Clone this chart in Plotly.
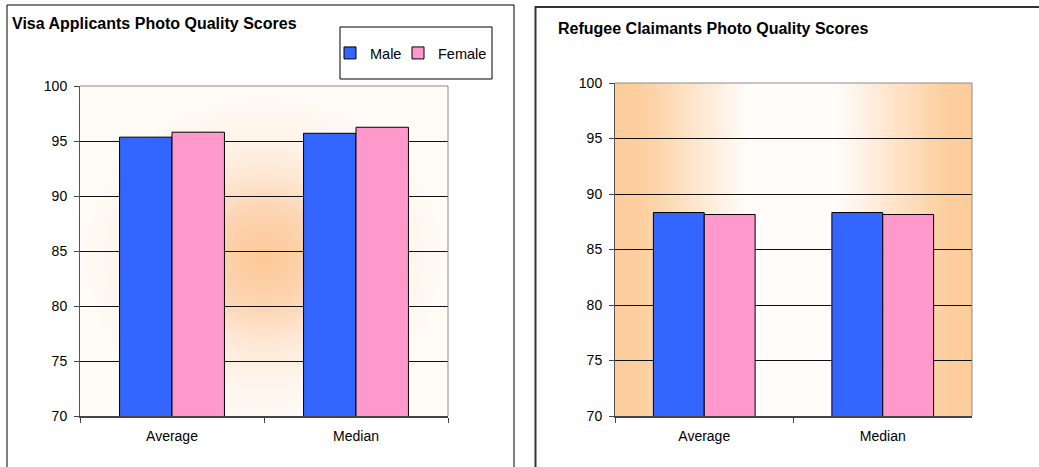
import base64
import struct
import zlib

import plotly.graph_objects as go

W, H = 1039, 467

categories = ["Average", "Median"]
visa_male = [95.35, 95.7]
visa_female = [95.8, 96.25]
refugee_male = [88.33, 88.33]
refugee_female = [88.15, 88.15]
y_ticks = [70, 75, 80, 85, 90, 95, 100]

MALE = "#3366FF"
FEMALE = "#FF99CC"
FONT = "Liberation Sans, Arial, sans-serif"


def px(x):
    return x / W


def py(y):
    return 1 - y / H


def ramp(stops, t):
    # piecewise linear colour ramp, stops = [(t, (r, g, b)), ...]
    for (t0, c0), (t1, c1) in zip(stops, stops[1:]):
        if t <= t1:
            f = max(0.0, (t - t0) / (t1 - t0))
            return tuple(round(a + (b - a) * f) for a, b in zip(c0, c1))
    return stops[-1][1]


def png_uri(w, h, colour_at):
    raw = b""
    for j in range(h):
        row = bytearray([0])
        for i in range(w):
            row.extend(colour_at((i + 0.5) / w, (j + 0.5) / h))
        raw += bytes(row)

    def chunk(tag, data):
        return (struct.pack(">I", len(data)) + tag + data
                + struct.pack(">I", zlib.crc32(tag + data) & 0xFFFFFFFF))

    png = (b"\x89PNG\r\n\x1a\n"
           + chunk(b"IHDR", struct.pack(">IIBBBBB", w, h, 8, 2, 0, 0, 0))
           + chunk(b"IDAT", zlib.compress(raw, 9))
           + chunk(b"IEND", b""))
    return "data:image/png;base64," + base64.b64encode(png).decode()


# background fills of the two plot areas (Excel style gradients)
radial_stops = [(0.0, (253, 200, 150)), (0.3, (253, 214, 180)), (0.5, (254, 231, 211)),
                (0.7, (255, 243, 233)), (1.0, (255, 251, 247))]
band_stops = [(0.0, (253, 204, 154)), (0.07, (253, 206, 158)), (0.37, (255, 252, 250)),
              (0.62, (255, 252, 250)), (0.93, (253, 206, 158)), (1.0, (253, 204, 154))]


def radial(u, v):
    t = (((u - 0.5) / 0.5) ** 2 + ((v - 0.52) / 0.5) ** 2) ** 0.5
    return ramp(radial_stops, t)


def band(u, v):
    return ramp(band_stops, u)


# plot areas in screen pixels: left, top, right, bottom
LEFT_BOX = (80, 86, 448, 416)
RIGHT_BOX = (615, 83, 972, 416)

fig = go.Figure()

fig.add_trace(go.Bar(x=categories, y=visa_male, name="Male", legend="legend",
                     marker=dict(color=MALE, line=dict(color="black", width=1)), xaxis="x", yaxis="y"))
fig.add_trace(go.Bar(x=categories, y=visa_female, name="Female", legend="legend2",
                     marker=dict(color=FEMALE, line=dict(color="black", width=1)), xaxis="x", yaxis="y"))
fig.add_trace(go.Bar(x=categories, y=refugee_male, name="Male", showlegend=False,
                     marker=dict(color=MALE, line=dict(color="black", width=1)), xaxis="x2", yaxis="y2"))
fig.add_trace(go.Bar(x=categories, y=refugee_female, name="Female", showlegend=False,
                     marker=dict(color=FEMALE, line=dict(color="black", width=1)), xaxis="x2", yaxis="y2"))


def x_axis(box):
    return dict(domain=[px(box[0]), px(box[2])], type="category", tickson="boundaries",
                ticks="outside", ticklen=5, tickcolor="#444", showline=True, linecolor="#444",
                linewidth=2, showgrid=False, tickfont=dict(size=14, color="black"),
                ticklabelstandoff=6, automargin=False)


def y_axis(box, anchor):
    return dict(domain=[py(box[3]), py(box[1])], anchor=anchor, range=[70, 100], tickvals=y_ticks,
                ticks="outside", ticklen=5, tickcolor="#444", showline=True, linecolor="#555",
                linewidth=1, showgrid=True, gridcolor="#111", gridwidth=1, zeroline=False,
                tickfont=dict(size=14, color="black"), ticklabelstandoff=4, automargin=False)


def legend_at(x):
    return dict(orientation="h", x=px(x), y=py(37), xanchor="left", yanchor="top",
                bgcolor="rgba(0,0,0,0)", borderwidth=0, font=dict(size=14.5), itemwidth=30)


shapes = []
for l, t, r, b in (LEFT_BOX, RIGHT_BOX):
    shapes.append(dict(type="line", xref="paper", yref="paper", x0=px(l), x1=px(r), y0=py(t), y1=py(t),
                       line=dict(color="#8c8c8c", width=1), layer="above"))
    shapes.append(dict(type="line", xref="paper", yref="paper", x0=px(r), x1=px(r), y0=py(t), y1=py(b),
                       line=dict(color="#8c8c8c", width=1), layer="above"))
# chart frames
shapes.append(dict(type="rect", xref="paper", yref="paper", x0=px(7), x1=px(514), y0=py(5), y1=py(490),
                   line=dict(color="black", width=1)))
shapes.append(dict(type="rect", xref="paper", yref="paper", x0=px(535.5), x1=px(1070), y0=py(7), y1=py(490),
                   line=dict(color="#333", width=2)))
# legend box
shapes.append(dict(type="rect", xref="paper", yref="paper", x0=px(340), x1=px(492), y0=py(79), y1=py(27),
                   line=dict(color="black", width=1), fillcolor="white", layer="above"))

images = []
for box, fill, size in ((LEFT_BOX, radial, (120, 110)), (RIGHT_BOX, band, (240, 2))):
    l, t, r, b = box
    images.append(dict(source=png_uri(size[0], size[1], fill), xref="paper", yref="paper",
                       x=px(l), y=py(t), sizex=(r - l) / W, sizey=(b - t) / H, sizing="stretch",
                       xanchor="left", yanchor="top", layer="below"))

fig.update_layout(
    width=W, height=H,
    margin=dict(l=0, r=0, t=0, b=0),
    paper_bgcolor="white",
    plot_bgcolor="rgba(0,0,0,0)",
    font=dict(family=FONT, color="black"),
    barmode="group",
    bargap=0.43,
    bargroupgap=0,
    xaxis=x_axis(LEFT_BOX),
    yaxis=y_axis(LEFT_BOX, "x"),
    xaxis2=x_axis(RIGHT_BOX) | dict(anchor="y2"),
    yaxis2=y_axis(RIGHT_BOX, "x2"),
    shapes=shapes,
    images=images,
    showlegend=True,
    legend=legend_at(330),
    legend2=legend_at(398),
    annotations=[
        dict(text="<b>Visa Applicants Photo Quality Scores</b>", xref="paper", yref="paper",
             x=px(10), y=py(23), xanchor="left", yanchor="middle", showarrow=False, font=dict(size=16)),
        dict(text="<b>Refugee Claimants Photo Quality Scores</b>", xref="paper", yref="paper",
             x=px(556), y=py(28), xanchor="left", yanchor="middle", showarrow=False, font=dict(size=16)),
    ],
)

fig.write_html("out.html", config={"responsive": False, "displayModeBar": False},
               post_script="document.body.style.margin='0';")
